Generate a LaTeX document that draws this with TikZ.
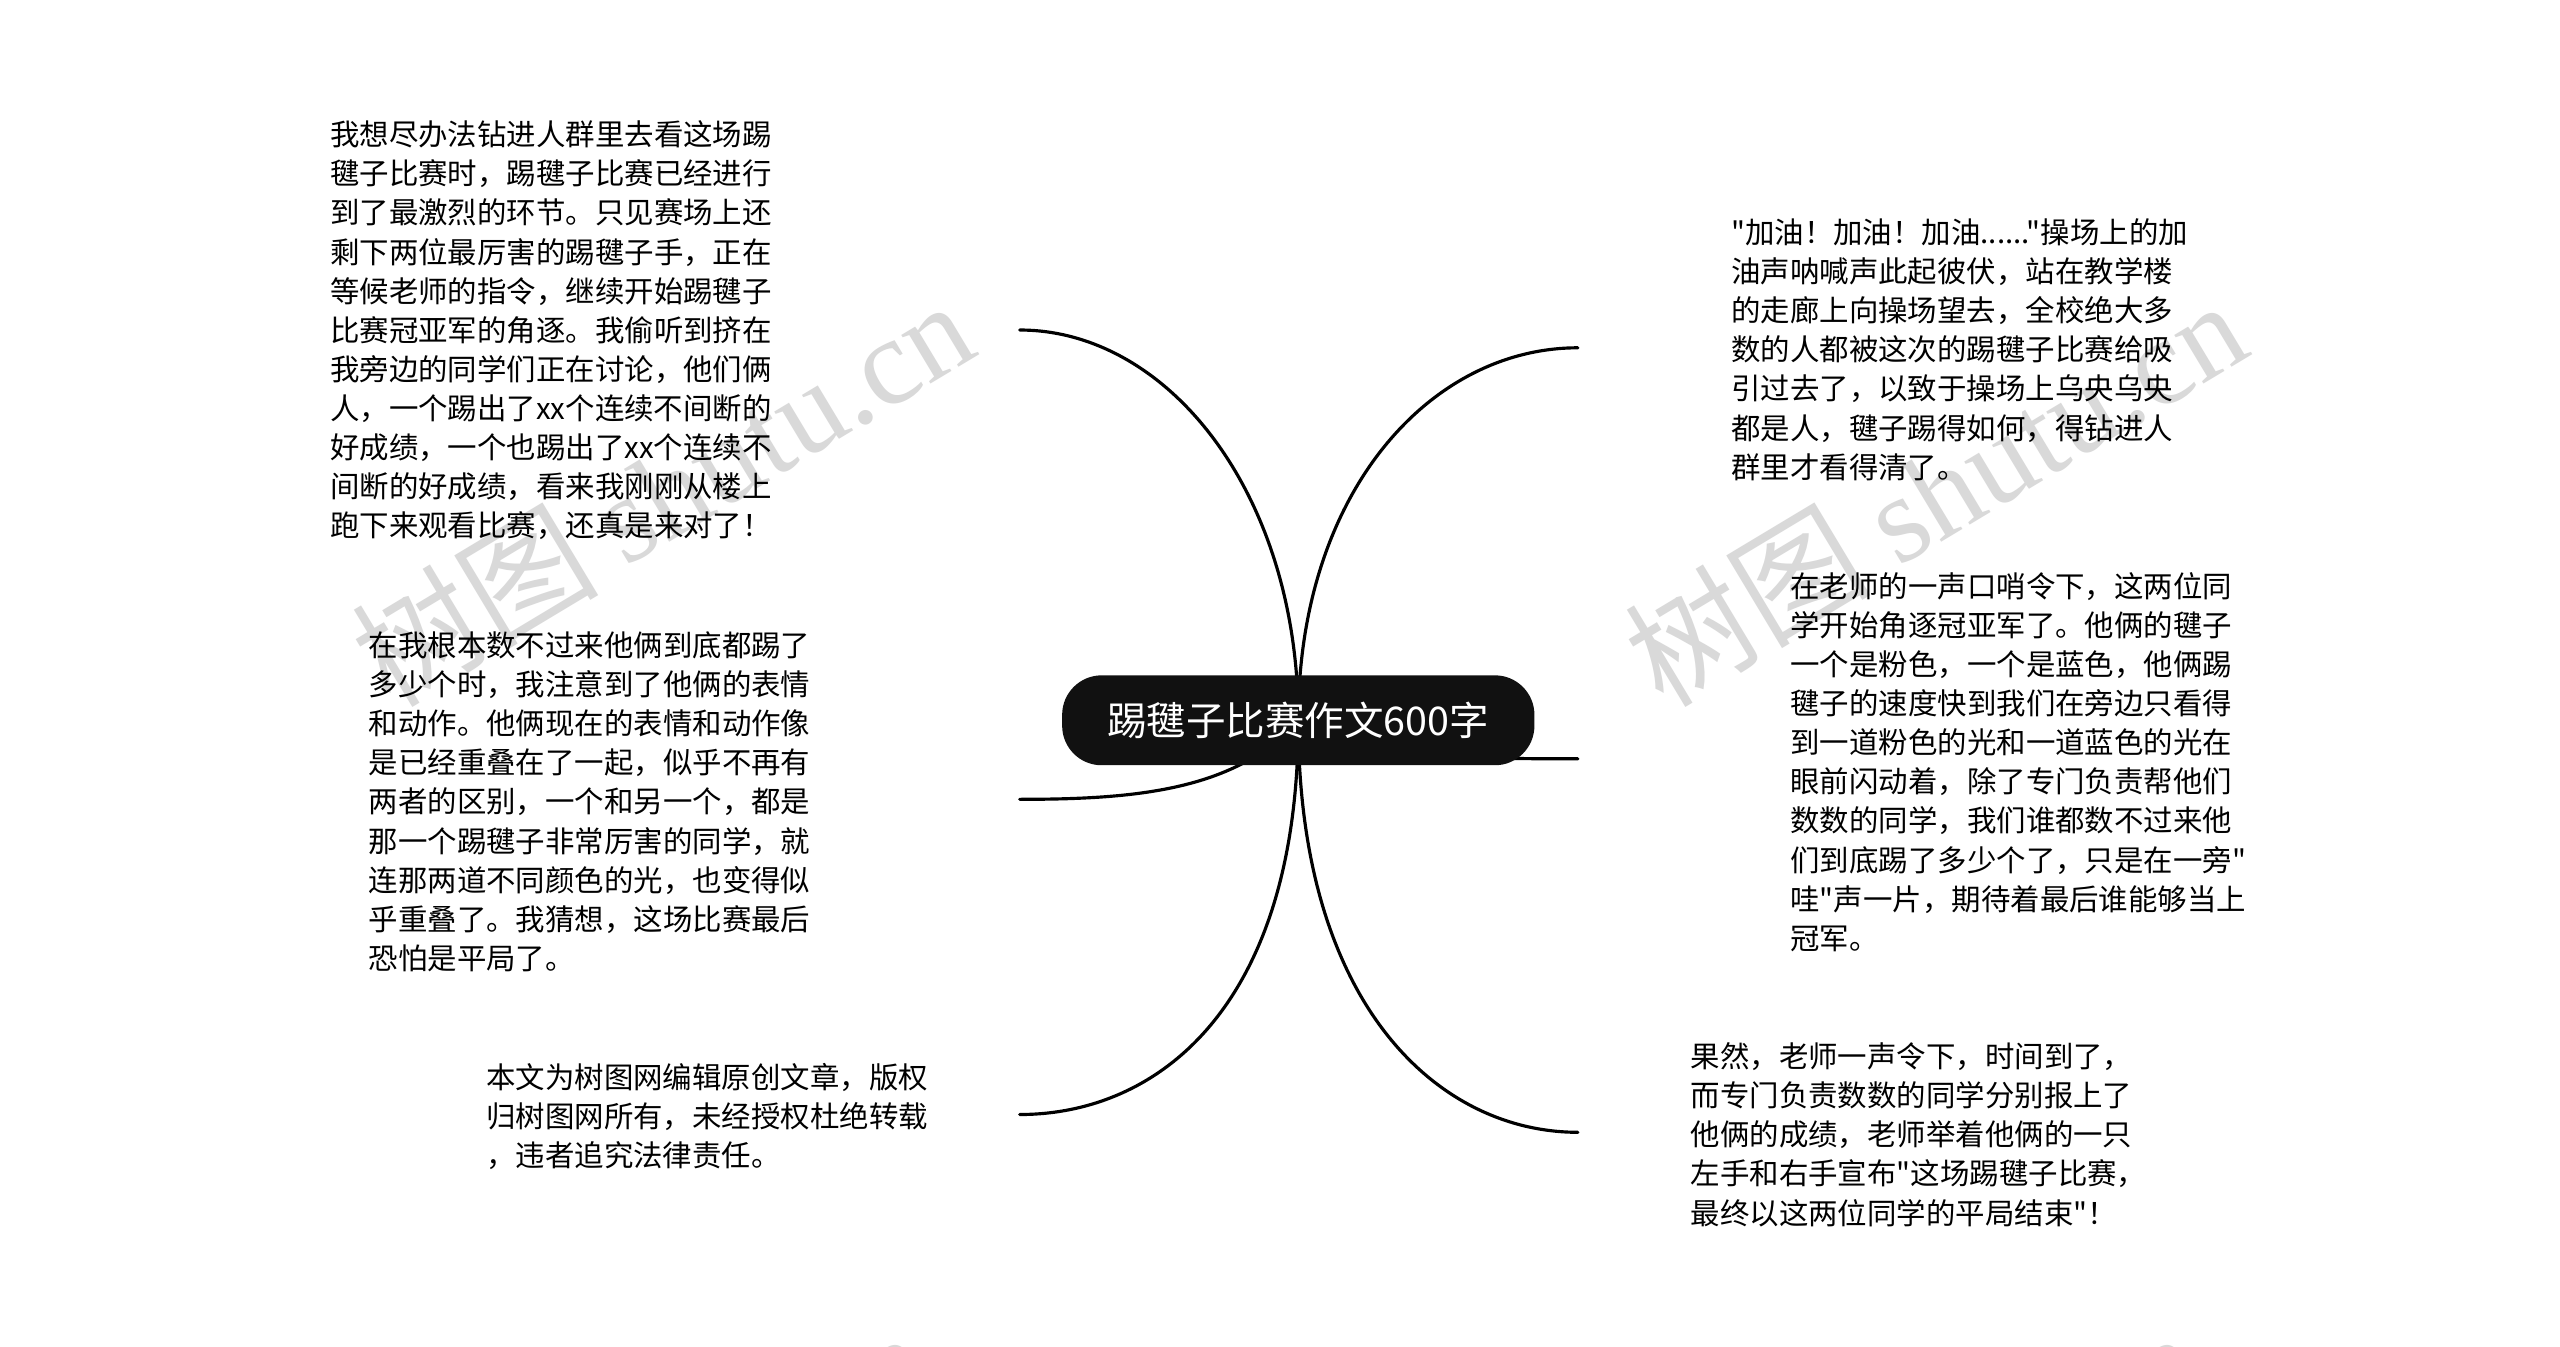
\documentclass[tikz,border=0pt]{standalone}
\usepackage{fontspec}
\newfontfamily\cjk{Noto Sans CJK SC}
\newfontfamily\wmlatin{Liberation Serif}
\usetikzlibrary{backgrounds}
\definecolor{topicfill}{HTML}{111111}
\definecolor{markgray}{HTML}{D9D9D9}

\begin{document}
\begin{tikzpicture}[x=1pt,y=-1pt,
  topic node/.style={fill=topicfill,text=white,rounded corners=40pt,minimum width=478pt,
    minimum height=91pt,inner sep=0pt,font=\cjk\fontsize{40}{48}\selectfont},
  text node/.style={anchor=north west,align=left,inner sep=0pt,
    font=\cjk\fontsize{29.8}{39.6}\selectfont},
  mark node/.style={anchor=base west,inner sep=0pt,text=markgray,rotate=31,
    font=\cjk\fontsize{125}{125}\selectfont},
  link/.style={line width=3.2pt,line cap=round}]
  \useasboundingbox (0,0) rectangle (2591,1363);

  \node[topic node] (title) at (1314,729) {踢毽子比赛作文600字};

  % branch ends
  \coordinate (L1) at (1032,334);
  \coordinate (L2) at (1032,809);
  \coordinate (L3) at (1032,1128);
  \coordinate (R1) at (1597,352);
  \coordinate (R2) at (1597,768);
  \coordinate (R3) at (1597,1146);

  \node[text node] (t1) at (334,122) {我想尽办法钻进人群里去看这场踢\\毽子比赛时，踢毽子比赛已经进行\\到了最激烈的环节。只见赛场上还\\剩下两位最厉害的踢毽子手，正在\\等候老师的指令，继续开始踢毽子\\比赛冠亚军的角逐。我偷听到挤在\\我旁边的同学们正在讨论，他们俩\\人，一个踢出了xx个连续不间断的\\好成绩，一个也踢出了xx个连续不\\间断的好成绩，看来我刚刚从楼上\\跑下来观看比赛，还真是来对了！};
  \node[text node] (t2) at (373,639) {在我根本数不过来他俩到底都踢了\\多少个时，我注意到了他俩的表情\\和动作。他俩现在的表情和动作像\\是已经重叠在了一起，似乎不再有\\两者的区别，一个和另一个，都是\\那一个踢毽子非常厉害的同学，就\\连那两道不同颜色的光，也变得似\\乎重叠了。我猜想，这场比赛最后\\恐怕是平局了。};
  \node[text node] (t3) at (492,1076) {本文为树图网编辑原创文章，版权\\归树图网所有，未经授权杜绝转载\\，违者追究法律责任。};
  \node[text node] (t4) at (1752,221) {"加油！加油！加油......"操场上的加\\油声呐喊声此起彼伏，站在教学楼\\的走廊上向操场望去，全校绝大多\\数的人都被这次的踢毽子比赛给吸\\引过去了，以致于操场上乌央乌央\\都是人，毽子踢得如何，得钻进人\\群里才看得清了。};
  \node[text node] (t5) at (1812,579) {在老师的一声口哨令下，这两位同\\学开始角逐冠亚军了。他俩的毽子\\一个是粉色，一个是蓝色，他俩踢\\毽子的速度快到我们在旁边只看得\\到一道粉色的光和一道蓝色的光在\\眼前闪动着，除了专门负责帮他们\\数数的同学，我们谁都数不过来他\\们到底踢了多少个了，只是在一旁"\\哇"声一片，期待着最后谁能够当上\\冠军。};
  \node[text node] (t6) at (1711,1055) {果然，老师一声令下，时间到了，\\而专门负责数数的同学分别报上了\\他俩的成绩，老师举着他俩的一只\\左手和右手宣布"这场踢毽子比赛，\\最终以这两位同学的平局结束"！};

  \begin{scope}[on background layer]
    \fill[white] (0,0) rectangle (2591,1363);
    % watermarks
    \node[mark node] (m1) at (395,718) {树图 {\wmlatin shutu.cn}};
    \node[mark node] (m2) at (1683,718) {树图 {\wmlatin shutu.cn}};
    \node[mark node] (m3) at (350,1762) {树图 {\wmlatin shutu.cn}};
    \node[mark node] (m4) at (1638,1762) {树图 {\wmlatin shutu.cn}};
    % branches
    \draw[link] (title.center) .. controls +(0,-230) and +(150,0) .. (L1);
    \draw[link] (title.center) .. controls +(0,-230) and +(-150,0) .. (R1);
    \draw[link] (title.center) .. controls +(-63,71) and +(118,0) .. (L2);
    \draw[link] (title.center) .. controls +(90,39) and +(-100,0) .. (R2);
    \draw[link] (title.center) .. controls +(0,290) and +(140,0) .. (L3);
    \draw[link] (title.center) .. controls +(0,290) and +(-140,0) .. (R3);
  \end{scope}
\end{tikzpicture}
\end{document}
